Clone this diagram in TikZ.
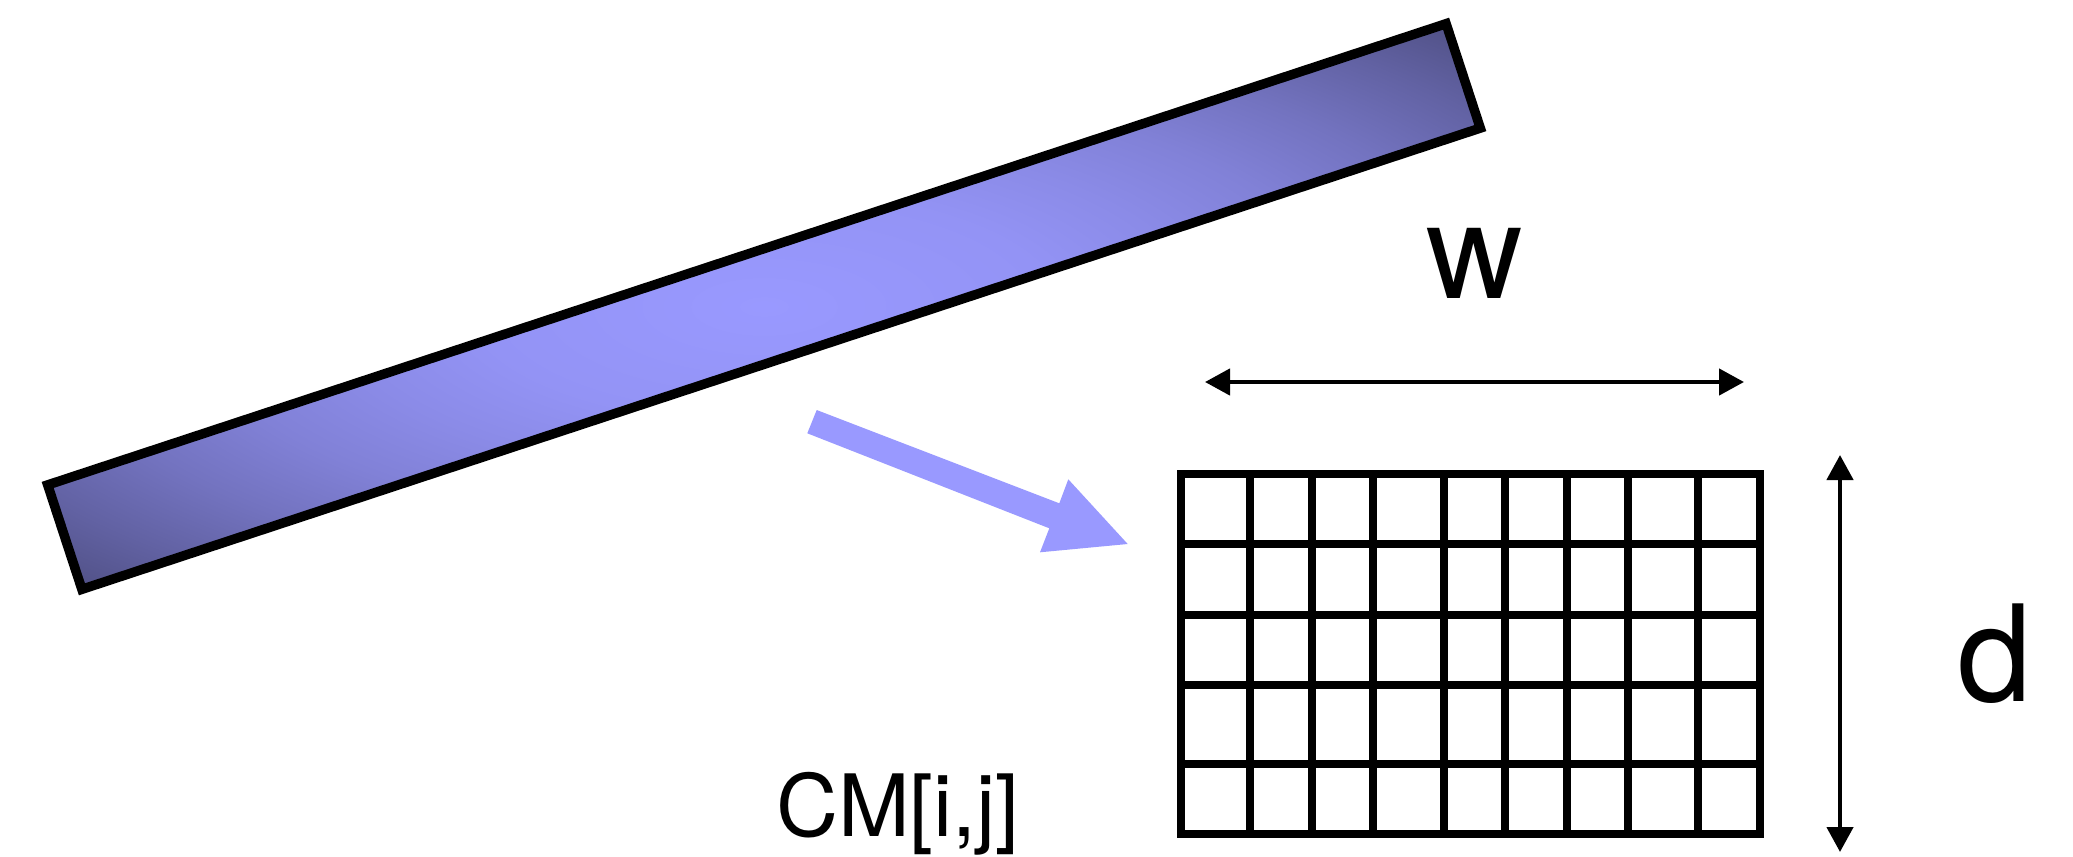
\documentclass[tikz,border=0pt]{standalone}
\usepackage{fontspec}
\setmainfont{TeX Gyre Heros}
\usetikzlibrary{arrows.meta}
\definecolor{periwinkle}{RGB}{153,153,255}
\pgfdeclareradialshading{barshade}{\pgfpoint{0bp}{0bp}}{rgb(0bp)=(0.6,0.6,1); rgb(10bp)=(0.577,0.577,0.961); rgb(15bp)=(0.545,0.545,0.908); rgb(20bp)=(0.506,0.506,0.843); rgb(25bp)=(0.451,0.451,0.752); rgb(30bp)=(0.384,0.384,0.64); rgb(35bp)=(0.31,0.31,0.516); rgb(50bp)=(0.25,0.25,0.42)}
\tikzset{
  dimarrow/.style={line width=4.5pt, -{Triangle[length=25pt,width=26pt]}},
  gridline/.style={line width=8.5pt},
  txtlab/.style={inner sep=0pt, anchor=base},
  bigtxt/.style={font=\fontsize{134}{134}\selectfont},
  midtxt/.style={font=\fontsize{86}{86}\selectfont}
}
\begin{document}
\begin{tikzpicture}[x=1pt,y=-1pt]
\useasboundingbox (0,0) rectangle (2073,857);
% tilted bar
\shadedraw[shading=barshade, line width=9.5pt] (47.7,484.9) -- (81.9,589.3) -- (1480.3,128.1) -- (1446.1,23.7) -- cycle;
% blue block arrow
\fill[periwinkle] (816.7,410) -- (1059.3,503.3) -- (1068.3,479.3) -- (1127.7,544) -- (1040,552.3) -- (1049.3,528.3) -- (807.3,433.3) -- cycle;
% grid
\draw[gridline] (1181,474) rectangle (1760,834);
\foreach \gx in {1250,1312,1373,1444,1505,1567,1628,1698}
  \draw[gridline] (\gx,474) -- (\gx,834);
\foreach \gy in {544,615,685,764}
  \draw[gridline] (1181,\gy) -- (1760,\gy);
% width arrow
\coordinate (wmid) at (1400,382);
\coordinate (wl) at (1205,382);
\coordinate (wr) at (1744,382);
\draw[dimarrow] (wmid) -- (wl);
\draw[dimarrow] (wmid) -- (wr);
% depth arrow
\coordinate (dmid) at (1840,596);
\coordinate (dt) at (1840,455);
\coordinate (db) at (1840,852);
\draw[dimarrow] (dmid) -- (dt);
\draw[dimarrow] (dmid) -- (db);
% labels
\node[txtlab, bigtxt] (wlab) at (1475,298) {w};
\node[txtlab, bigtxt] (dlab) at (1995,701) {d};
\node[txtlab, midtxt] (cmlab) at (898,836) {CM[i,j]};
\end{tikzpicture}
\end{document}
